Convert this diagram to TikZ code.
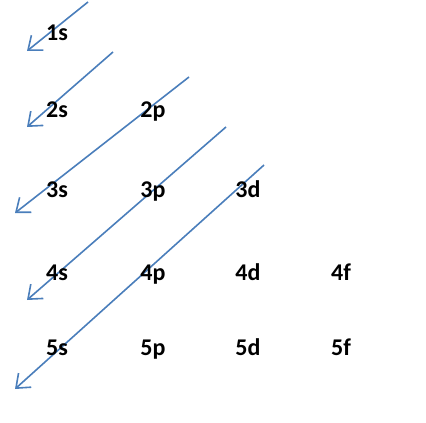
\documentclass[tikz,border=0pt]{standalone}
\usepackage{fontspec}
\setmainfont{Carlito}
\usetikzlibrary{arrows.meta}

\begin{document}
\begin{tikzpicture}[x=1pt,y=-1pt]
		\tikzstyle {orbital} = [anchor=base, inner sep=0pt, font=\fontsize{24}{26}\selectfont\bfseries]
		\tikzstyle {fill line} = [draw={rgb,255:red,74;green,126;blue,187}, line width=1.6pt, -{Straight Barb[length=12pt,width=19pt]}]

		\useasboundingbox (0,0) rectangle (426,423);

		\coordinate (a1) at (88,2);   \coordinate (b1) at (27,51);
		\coordinate (a2) at (113,52); \coordinate (b2) at (27,127);
		\coordinate (a3) at (189,77); \coordinate (b3) at (15,213);
		\coordinate (a4) at (226,127); \coordinate (b4) at (27,300);
		\coordinate (a5) at (264,165); \coordinate (b5) at (15,389);

		\foreach \i in {1,...,5}
			\draw[fill line] (a\i) -- (b\i);

		\node[orbital] (s1) at (57,40) {1s};
		\node[orbital] (s2) at (57,117) {2s};
		\node[orbital] (p2) at (153,117) {2p};
		\node[orbital] (s3) at (57,197) {3s};
		\node[orbital] (p3) at (153,197) {3p};
		\node[orbital] (d3) at (248,197) {3d};
		\node[orbital] (s4) at (57,280) {4s};
		\node[orbital] (p4) at (153,280) {4p};
		\node[orbital] (d4) at (248,280) {4d};
		\node[orbital] (f4) at (341,280) {4f};
		\node[orbital] (s5) at (57,355) {5s};
		\node[orbital] (p5) at (153,355) {5p};
		\node[orbital] (d5) at (248,355) {5d};
		\node[orbital] (f5) at (341,355) {5f};
	\end{tikzpicture}
\end{document}
